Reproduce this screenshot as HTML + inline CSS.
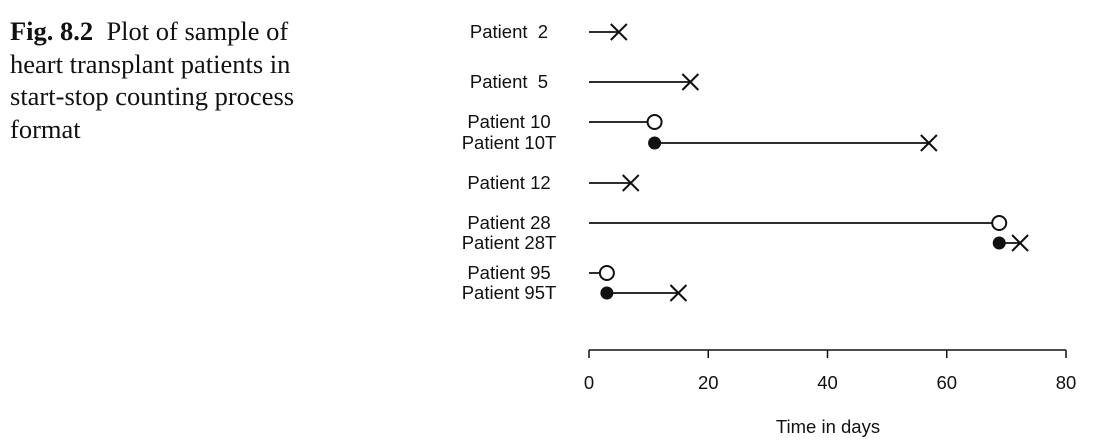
<!DOCTYPE html>
<html><head><meta charset="utf-8"><style>
body{margin:0;width:1095px;height:445px;background:#fff;overflow:hidden;position:relative}
#cap{position:absolute;left:10px;top:15px;width:305px;font-family:"Liberation Serif",serif;font-size:26.5px;line-height:32.5px;color:#111}
svg{position:absolute;left:0;top:0}
</style></head><body>
<div id="cap"><b>Fig. 8.2</b>&nbsp; Plot of sample of heart transplant patients in start-stop counting process format</div>
<svg id="chart" width="1095" height="445" font-family="Liberation Sans, sans-serif"></svg>
<script>
const labels=["Patient\u00a0\u00a02","Patient\u00a0\u00a05","Patient 10","Patient 10T","Patient 12","Patient 28","Patient 28T","Patient 95","Patient 95T"];
const starts=[0,0,0,11,0,0,68.8,0,3];
const stops=[5,17,11,57,7,68.8,72.3,3,15];
const startMark=["none","none","none","dot","none","none","dot","none","dot"];
const endMark=["x","x","circle","x","x","circle","x","circle","x"];
const rowY=[32,82,122,143,183,223,243,273,293];
const ticks=[0,20,40,60,80];
const X=v=>589+v*(1066-589)/80;
const svg=document.getElementById('chart');
const NS="http://www.w3.org/2000/svg";
function mk(t,a){const e=document.createElementNS(NS,t);for(const k in a)e.setAttribute(k,a[k]);svg.appendChild(e);return e;}
labels.forEach((l,i)=>{
 const y=rowY[i];
 const t=mk('text',{x:509,y:y+6,'text-anchor':'middle','font-size':18.5,fill:'#111'});t.textContent=l;
 
 
 const ln=mk('line',{x1:X(starts[i]),x2:X(stops[i]),y1:y,y2:y,stroke:'#111','stroke-width':1.8});
 
 
 if(startMark[i]==='dot'){const c=mk('circle',{cx:X(starts[i]),cy:y,r:6.5,fill:'#111'});
  
  }
 const ex=X(stops[i]);
 if(endMark[i]==='circle'){const c=mk('circle',{cx:ex,cy:y,r:7,fill:'#fff',stroke:'#111','stroke-width':2});
  
  }
 else{const p=mk('path',{d:`M${ex-8} ${y-8}L${ex+8} ${y+8}M${ex-8} ${y+8}L${ex+8} ${y-8}`,stroke:'#111','stroke-width':2});
  
  }
});
const ax=mk('line',{x1:X(0),x2:X(80),y1:350,y2:350,stroke:'#111','stroke-width':1.5});


ticks.forEach(v=>{
 const tk=mk('line',{x1:X(v),x2:X(v),y1:350,y2:358,stroke:'#111','stroke-width':1.5});
 
 
 const t=mk('text',{x:X(v),y:389,'text-anchor':'middle','font-size':18.5,fill:'#111'});t.textContent=v;
 
 
});
const tt=mk('text',{x:828,y:433,'text-anchor':'middle','font-size':18.5,fill:'#111'});tt.textContent="Time in days";


</script>
</body></html>
